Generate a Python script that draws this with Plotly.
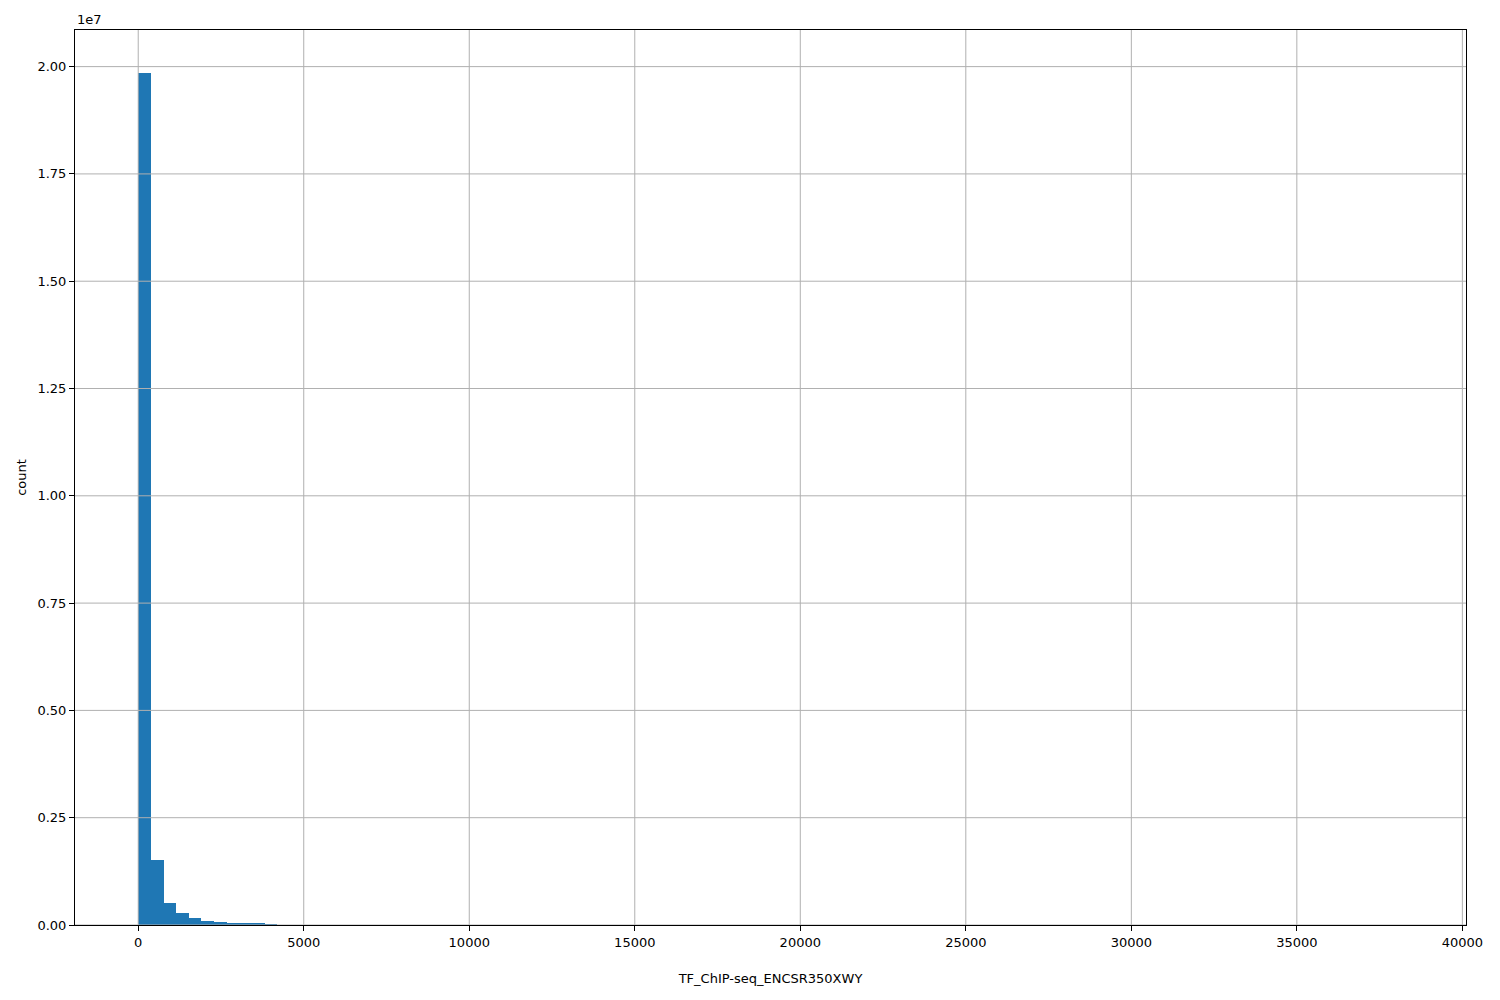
import numpy as np
import plotly.graph_objects as go

bin_start = 0.0
bin_width = 382.0
counts = [
    19860000, 1515000, 520000, 287000, 163000, 85000, 78000, 35000, 30000, 25000,
    120, 90, 70, 55, 45, 36, 30, 25, 20, 16,
    13, 11, 9, 8, 7, 6, 5, 5, 4, 4,
    3, 3, 3, 2, 2, 2, 2, 2, 1, 1,
    1, 1, 1, 1, 1, 1, 1, 1, 1, 1,
    1, 1, 1, 1, 0, 1, 1, 0, 0, 1,
    0, 1, 0, 0, 1, 0, 0, 0, 1, 0,
    0, 0, 0, 1, 0, 0, 0, 0, 0, 0,
    0, 0, 1, 0, 0, 0, 0, 0, 0, 0,
    0, 0, 0, 0, 0, 0, 0, 0, 0, 1,
]
x_ticks = [0, 5000, 10000, 15000, 20000, 25000, 30000, 35000, 40000]
x_ticktext = ["0", "5000", "10000", "15000", "20000", "25000", "30000", "35000", "40000"]
y_ticks = [0, 2.5e6, 5e6, 7.5e6, 1e7, 1.25e7, 1.5e7, 1.75e7, 2e7]
y_ticktext = ["0.00", "0.25", "0.50", "0.75", "1.00", "1.25", "1.50", "1.75", "2.00"]
x_label = "TF_ChIP-seq_ENCSR350XWY"
y_label = "count"

centers = [bin_start + bin_width * (i + 0.5) for i in range(len(counts))]
data_max = bin_start + bin_width * len(counts)
span = data_max - bin_start
x_range = [bin_start - 0.05 * span, data_max + 0.05 * span]
y_range = [0, max(counts) * 1.05]

fig = go.Figure()
fig.add_trace(go.Bar(x=centers, y=counts, width=[bin_width] * len(counts),
                     marker=dict(color="#1f77b4", line=dict(width=0)),
                     showlegend=False))

grid_color = "#b0b0b0"
shapes = []
for v in x_ticks:
    if x_range[0] <= v <= x_range[1]:
        shapes.append(dict(type="line", xref="x", yref="paper", x0=v, x1=v, y0=0, y1=1,
                           line=dict(color=grid_color, width=1), layer="above"))
for v in y_ticks:
    shapes.append(dict(type="line", xref="paper", yref="y", x0=0, x1=1, y0=v, y1=v,
                       line=dict(color=grid_color, width=1), layer="above"))

font = dict(family="DejaVu Sans", size=13, color="black")
fig.update_layout(
    width=1492, height=992,
    margin=dict(l=67, r=34, t=22, b=75, autoexpand=False),
    paper_bgcolor="white", plot_bgcolor="white",
    font=font,
    bargap=0,
    shapes=shapes,
    xaxis=dict(range=x_range, tickvals=x_ticks, ticktext=x_ticktext, ticks="outside",
               ticklen=5, tickwidth=1, automargin=False,
               tickcolor="black", showgrid=False, zeroline=False, showline=True,
               linecolor="black", linewidth=1, mirror=True,
               title=dict(text=x_label, font=font, standoff=25)),
    yaxis=dict(range=y_range, tickvals=y_ticks, ticktext=y_ticktext, ticks="outside",
               ticklen=5, tickwidth=1, tickcolor="black", showgrid=False, zeroline=False,
               showline=True, linecolor="black", linewidth=1, mirror=True, automargin=False,
               title=dict(text=y_label, font=font, standoff=7)),
    annotations=[dict(text="1e7", xref="paper", yref="paper", x=0, y=1,
                      xanchor="left", yanchor="bottom", showarrow=False, font=font,
                      yshift=1)],
)

fig.write_html("out.html")
